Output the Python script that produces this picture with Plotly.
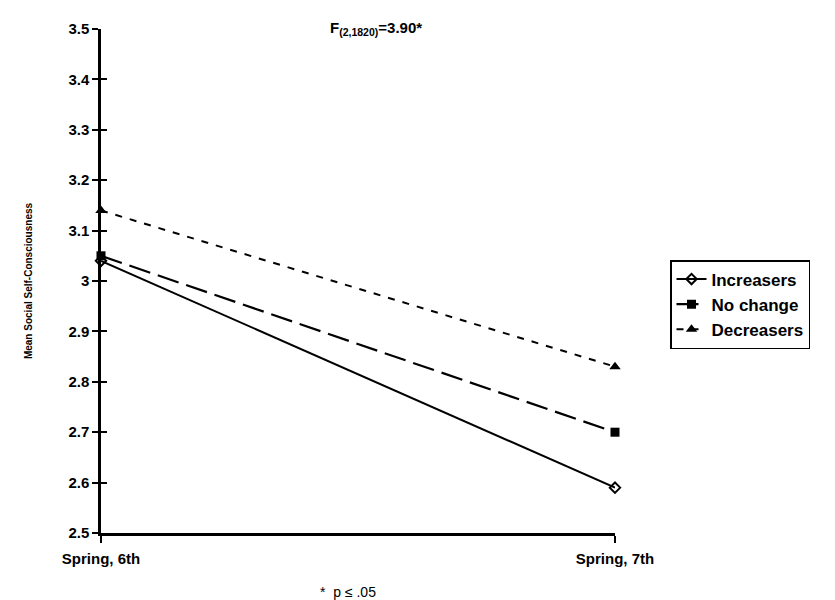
import plotly.graph_objects as go

categories = ["Spring, 6th", "Spring, 7th"]
increasers = [3.04, 2.59]
no_change = [3.05, 2.70]
decreasers = [3.14, 2.83]
y_ticks = [2.5, 2.6, 2.7, 2.8, 2.9, 3.0, 3.1, 3.2, 3.3, 3.4, 3.5]
y_ticktext = ["2.5", "2.6", "2.7", "2.8", "2.9", "3", "3.1", "3.2", "3.3", "3.4", "3.5"]

xpos = list(range(len(categories)))
FONT = "Liberation Sans"

fig = go.Figure()
fig.add_trace(go.Scatter(
    x=xpos, y=increasers, name="<b>Increasers</b>", mode="lines+markers", cliponaxis=False,
    line=dict(color="black", width=2),
    marker=dict(symbol="diamond-open", size=8, color="black", line=dict(width=2))))
fig.add_trace(go.Scatter(
    x=xpos, y=no_change, name="<b>No change</b>", mode="lines+markers", cliponaxis=False,
    line=dict(color="black", width=2.2, dash="22px,8px"),
    marker=dict(symbol="square", size=9, color="black")))
fig.add_trace(go.Scatter(
    x=xpos, y=decreasers, name="<b>Decreasers</b>", mode="lines+markers", cliponaxis=False,
    line=dict(color="black", width=2, dash="7px,8px"),
    marker=dict(symbol="triangle-up", size=10, color="black")))

# invisible helper trace for the inner half of the crossing ticks
fig.add_trace(go.Scatter(x=xpos, y=increasers, xaxis="x2", yaxis="y2",
                         mode="none", showlegend=False, hoverinfo="skip"))

fig.update_layout(
    width=835, height=600,
    margin=dict(l=93, r=228, t=21, b=75),
    plot_bgcolor="white", paper_bgcolor="white",
    font=dict(family=FONT, color="black"),
    xaxis=dict(range=[0, 1], tickvals=xpos, ticktext=[f"<b>{c}</b>" for c in categories],
               showline=True, linecolor="black", linewidth=2.5, showgrid=False, zeroline=False,
               ticks="outside", ticklen=7, tickwidth=2, tickcolor="black",
               tickfont=dict(size=15, family=FONT), ticklabelstandoff=3),
    yaxis=dict(range=[2.5, 3.5], tickvals=y_ticks, ticktext=[f"<b>{t}</b>" for t in y_ticktext],
               showline=True, linecolor="black", linewidth=2.5, showgrid=False, zeroline=False,
               ticks="outside", ticklen=6, tickwidth=1.5, tickcolor="black",
               tickfont=dict(size=15, family=FONT),
               title=dict(text="<b>Mean Social Self-Consciousness</b>", font=dict(size=10, family=FONT),
                          standoff=34)),
    xaxis2=dict(range=[0, 1], overlaying="x", tickvals=[1], ticks="inside", ticklen=7, tickwidth=2,
                tickcolor="black", showticklabels=False, showgrid=False, zeroline=False, showline=False,
                side="bottom", anchor="y2"),
    yaxis2=dict(range=[2.5, 3.5], overlaying="y", tickvals=y_ticks, ticks="inside", ticklen=6,
                tickwidth=1.5, tickcolor="black", showticklabels=False, showgrid=False,
                zeroline=False, showline=False, side="left", anchor="x2"),
    legend=dict(x=(662 - 93) / 514, y=(525 - 252) / 504, xanchor="left", yanchor="top",
                bordercolor="black", borderwidth=1.5, bgcolor="white",
                font=dict(size=17, family=FONT), tracegroupgap=0, itemwidth=30),
    showlegend=True,
    annotations=[
        dict(text="<b>F<sub>(2,1820)</sub>=3.90*</b>", x=(368 - 93) / 514, y=(525 - 20) / 504,
             xref="paper", yref="paper", yanchor="middle",
             showarrow=False, font=dict(size=15, family=FONT)),
        dict(text="*  p ≤ .05", x=(340 - 93) / 514, y=(525 - 584) / 504, xref="paper", yref="paper",
             showarrow=False, font=dict(size=14, family=FONT), xanchor="center", yanchor="middle"),
    ],
)

fig.write_html("out.html")
